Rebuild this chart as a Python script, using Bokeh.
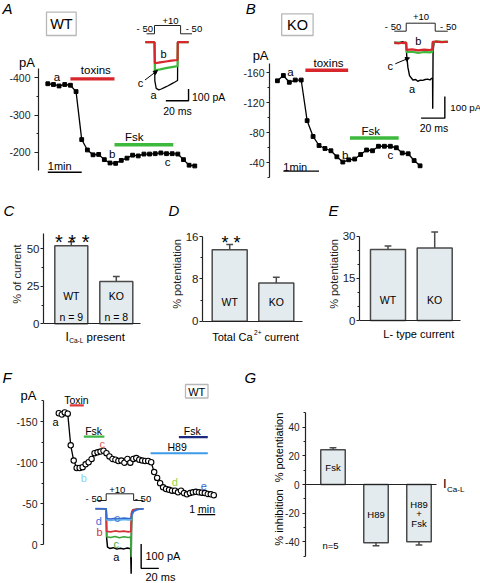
import math
from bokeh.plotting import figure
from bokeh.models import Range1d, FixedTicker, Arrow, NormalHead, CustomJSTickFormatter
from bokeh.layouts import row, column
from bokeh.embed import file_html
from bokeh.resources import INLINE
from bokeh.core.properties import value

FONT = "Liberation Sans"
S = 1.0  # reference pixels -> page pixels

# ====================== DATA ======================
# Panel A (WT): peak current, one point every 10 s
A_step_s = 10
A_current_pA = [-384, -382, -378, -382, -380, -363, -234, -206, -193, -194, -180, -171, -170,
                -178, -184, -192, -190, -195, -195, -196, -198, -196, -196, -195, -180, -165, -163]
A_toxins_s = [40, 118]
A_toxins_level = -397
A_fsk_s = [118, 222]
A_fsk_level = -220
A_scale_s = [0, 60]
A_scale_level = -146
# Panel A inset currents (ms, pA) and voltage protocol (ms, mV)
A_ins_t_a = [-8, 0, 0.3, 1.5, 3.8, 6, 9, 12, 15, 18, 20.3, 20.5, 30]
A_ins_i_a = [0, 0, -330, -395, -407, -400, -386, -372, -356, -340, -327, 0, 0]
A_ins_t_bc = [-8, 0, 0.3, 5, 10, 15, 20.3, 20.5, 30]
A_ins_i_b = [0, 0, -180, -172, -165, -158, -152, 0, 0]
A_ins_i_c = [0, 0, -240, -232, -222, -213, -205, 0, 0]
A_prot_t = [-7, 0, 0, 23, 23, 33]
A_prot_mV = [-50, -50, 10, 10, -50, -50]
A_ins_scale_t = [10, 30, 30]
A_ins_scale_i = [-500, -500, -400]

# Panel B (KO)
B_step_s = 10
B_current_pA = [-149, -156, -147, -150, -150, -96, -75, -63, -59, -56, -48, -41, -44, -45,
                -51, -57, -56, -62, -62, -62, -60, -53, -52, -43, -36]
B_toxins_s = [47, 119]
B_toxins_level = -163
B_fsk_s = [122, 204]
B_fsk_level = -73
B_scale_s = [10, 70]
B_scale_level = -29
B_ins_t_a = [-10, -6, -3, -1, 0, 0.4, 1.4, 2.8, 5.6, 8, 9.7, 12, 13.9, 16, 18, 20, 21.4, 22.2, 22.3, 22.6, 23.5, 27, 35]
B_ins_i_a = [0, -2, 3, -3, 0, -60, -115, -154, -174, -172, -180, -175, -176, -172, -170, -174, -166, -170, -307, -40, 0, 2, 0]
B_ins_t_bc = [-10, -6, -2, 0, 0.3, 5, 10, 15, 20, 22, 22.3, 25, 30, 35]
B_ins_i_b = [-3, -5, -2, -3, -35, -33, -38, -34, -36, -33, 2, 3, 0, 2]
B_ins_i_c = [-4, -2, -5, -2, -46, -44, -49, -45, -47, -44, -5, 4, 2, 3]
B_prot_t = [-10, 0, 0, 24.4, 24.4, 35]
B_prot_mV = [-50, -50, 10, 10, -50, -50]
B_ins_scale_t = [12.5, 32.5, 32.5]
B_ins_scale_i = [-350, -350, -250]

# Panel C: % of cells with I_Ca-L present
C_groups = ["WT", "KO"]
C_mean = [52.0, 28.2]
C_sem = [2.7, 3.3]
C_n = ["n = 9", "n = 8"]
# Panel D: % potentiation, total Ca current
D_groups = ["WT", "KO"]
D_mean = [13.5, 7.2]
D_sem = [1.0, 1.1]
# Panel E: % potentiation, L-type current
E_groups = ["WT", "KO"]
E_mean = [25.3, 25.8]
E_sem = [1.2, 5.7]

# Panel F (WT): time course, one point every 10 s
F_step_s = 10
F_current_pA = [-160, -158.5, -161, -159.5, -121, -102.5, -93.5, -93.5, -94.5, -98, -100.5, -104.5,
                -111.5, -112.5, -113.5, -114.5, -111.5, -107.5, -104.5, -103.5, -102, -102.5, -100,
                -104.5, -100, -104.5, -105.5, -103.5, -102.5, -102, -102, -100.5, -88.5, -81.5, -75,
                -70, -68, -67, -66, -66, -64, -66, -63, -61.5, -63, -64, -64.5, -64, -63.5, -63, -62,
                -61.5, -60.5]
F_toxin_s = [37, 84]
F_toxin_level = -169.5
F_fsk1_s = [84, 153]
F_fsk1_level = -131.7
F_h89_s = [308, 500]
F_h89_level = -111.4
F_fsk2_s = [403, 500]
F_fsk2_level = -130.9
F_scale_s = [465, 525]
F_scale_level = -36.8
F_ins_t_a = [-12, 0, 0.5, 1.5, 4, 8, 12, 16, 20, 24, 27.6, 28.2, 28.5, 29, 31, 35, 42]
F_ins_i_a = [0, 0, -120, -158, -163, -160, -166, -162, -165, -161, -164, -267, -100, -14, -5, -2, 0]
F_ins_t_c = [-12, 0, 0.5, 5, 10, 15, 20, 25, 27.6, 28.2, 28.5, 29, 31, 42]
F_ins_i_c = [0, 0, -115, -118, -114, -119, -115, -118, -116, -199, -60, -10, -3, 0]
F_ins_t_b = [-12, 0, 0.5, 5, 10, 15, 20, 25, 27.8, 28.3, 30, 42]
F_ins_i_b = [0, 0, -93, -95, -91, -94, -92, -95, -93, -20, -4, 0]
F_ins_t_de = [-12, 0, 0.6, 5, 10, 15, 20, 25, 28, 29, 31, 35, 42]
F_ins_i_d = [0, 0, -46, -48, -45, -47, -44, -46, -45, -28, -12, -4, 0]
F_ins_i_e = [1, 0, -40, -42, -39, -41, -38, -40, -39, -24, -9, -3, 0]
F_prot_t = [-10, 0, 0, 31, 31, 42]
F_prot_mV = [-50, -50, 10, 10, -50, -50]
F_ins_scale_t = [39.5, 39.5, 59.5]
F_ins_scale_i = [-145, -245, -245]

# Panel G: % potentiation / inhibition of I_Ca-L (n = 5)
G_groups = ["Fsk", "H89", "H89+Fsk"]
G_mean = [24.2, -40.7, -40.0]
G_sem = [1.4, 2.1, 2.3]

# ====================== STYLE ======================
RED = "#d8262d"
GREEN = "#3dba3d"
BAR_FILL = "#e4ebee"
BAR_LINE = "#4a4a4a"
AXIS = "#222222"

AW = {' ': 278, '%': 889, 'a': 556, 'C': 722, 'I': 278, 'L': 556, 'T': 611, '-': 333, '+': 584,
      '2': 556, 'o': 556, 't': 278, 'l': 222, 'c': 500, 'u': 556, 'r': 333, 'e': 556, 'n': 556,
      'p': 556, 's': 500}


def tw(s, size):
    return sum(AW.get(ch, 556) for ch in s) / 1000.0 * size


def lin(a):
    (p1, v1), (p2, v2) = a
    k = (v2 - v1) / (p2 - p1)
    return lambda q: v1 + (q - p1) * k


class Panel:
    def __init__(self, region, frame, xa, ya, xaxis=False):
        rx0, ry0, rx1, ry1 = region
        fx0, fy0, fx1, fy1 = frame
        W = round(S * (rx1 - rx0))
        H = round(S * (ry1 - ry0))
        bl = round(S * (fx0 - rx0))
        br = round(S * (rx1 - fx1))
        bt = round(S * (fy0 - ry0))
        bb = round(S * (ry1 - fy1))
        self.f = (rx0 + bl / S, ry0 + bt / S, rx0 + (W - br) / S, ry0 + (H - bb) / S)
        self.X = lin(xa)
        self.Y = lin(ya)
        self.p = figure(width=W, height=H, x_range=self.xr(xa), y_range=self.yr(ya),
                        toolbar_location=None, output_backend="svg",
                        x_axis_location="below" if xaxis else None, y_axis_location="left",
                        min_border_left=bl, min_border_right=br, min_border_top=bt,
                        min_border_bottom=bb, outline_line_color=None,
                        background_fill_color="white", border_fill_color="white")
        self.p.grid.visible = False

    def xr(self, a):
        f = lin(a)
        return Range1d(start=f(self.f[0]), end=f(self.f[2]))

    def yr(self, a):
        f = lin(a)
        return Range1d(start=f(self.f[3]), end=f(self.f[1]))

    def inset(self, name, xa, ya):
        self.p.extra_x_ranges[name] = self.xr(xa)
        self.p.extra_y_ranges[name] = self.yr(ya)


def txt(p, x, y, s, size, color="black", align="center", baseline="middle", style="normal",
        angle=0.0, **kw):
    p.text(x=[x], y=[y], text=[s], text_font=value(FONT), text_font_size=f"{size * S:.2f}px",
           text_color=color, text_align=align, text_baseline=baseline, text_font_style=style,
           angle=angle, level="overlay", **kw)


def ptxt(P, x, y, s, size, **kw):
    txt(P.p, P.X(x), P.Y(y), s, size, **kw)


def pbox(P, x0, y0, x1, y1):
    P.p.quad(left=[P.X(x0)], right=[P.X(x1)], top=[P.Y(y0)], bottom=[P.Y(y1)],
             fill_color=None, line_color="#b8b8b8", line_width=1.3, level="overlay")


def parrow(P, x0, y0, x1, y1):
    P.p.add_layout(Arrow(end=NormalHead(size=4, fill_color="black", line_color="black", line_width=1),
                         x_start=P.X(x0), y_start=P.Y(y0), x_end=P.X(x1), y_end=P.Y(y1),
                         line_width=1, line_color="black"))


def yax(P, ticks, minor, bounds, size, tick_out=3, standoff=2, label=None, label_size=11,
        label_standoff=2):
    ax = P.p.yaxis[0]
    ax.ticker = FixedTicker(ticks=ticks, minor_ticks=minor)
    ax.formatter = CustomJSTickFormatter(code="return String(tick);")
    ax.bounds = bounds
    ax.axis_line_color = AXIS
    ax.axis_line_width = 1.2
    ax.major_tick_line_color = AXIS
    ax.major_tick_line_width = 1.2
    ax.minor_tick_line_color = AXIS
    ax.minor_tick_line_width = 1
    ax.major_tick_in = 0
    ax.major_tick_out = tick_out
    ax.minor_tick_in = 0
    ax.minor_tick_out = 2
    ax.major_label_standoff = standoff
    ax.major_label_text_font = FONT
    ax.major_label_text_font_size = f"{size * S:.2f}px"
    ax.major_label_text_color = AXIS
    if label:
        ax.axis_label = label
        ax.axis_label_text_font = FONT
        ax.axis_label_text_font_size = f"{label_size * S:.2f}px"
        ax.axis_label_text_font_style = "normal"
        ax.axis_label_text_color = AXIS
        ax.axis_label_standoff = label_standoff


def xax(P, right_px):
    ax = P.p.xaxis[0]
    ax.fixed_location = 0
    ax.ticker = FixedTicker(ticks=[])
    ax.major_tick_out = 0
    ax.major_tick_in = 0
    ax.minor_tick_out = 0
    ax.minor_tick_in = 0
    ax.major_label_text_font_size = "0px"
    ax.major_label_standoff = 0
    ax.axis_line_color = AXIS
    ax.axis_line_width = 1.2
    ax.bounds = (P.X(P.f[0]), P.X(right_px))


def bars(P, xs, means, errs, width, cap_px):
    p = P.p
    p.vbar(x=xs, top=means, bottom=0, width=width, fill_color=BAR_FILL, line_color=BAR_LINE,
           line_width=1.5)
    ends = [m + (e if m >= 0 else -e) for m, e in zip(means, errs)]
    p.segment(x0=xs, y0=means, x1=xs, y1=ends, line_color=BAR_LINE, line_width=1.5)
    cw = cap_px * abs(P.X(1) - P.X(0))
    p.segment(x0=[x - cw for x in xs], y0=ends, x1=[x + cw for x in xs], y1=ends,
              line_color=BAR_LINE, line_width=1.5)


def timecourse(P, step, vals, marker="square"):
    t = [i * step for i in range(len(vals))]
    P.p.line(t, vals, line_color="black", line_width=1.3)
    if marker == "square":
        P.p.scatter(t, vals, marker="square", size=3.8, fill_color="black", line_color="black")
    else:
        P.p.scatter(t, vals, marker="circle", size=5.4, fill_color="white", line_color="black",
                    line_width=1.1)


def appbar(P, span, level, color, width=3.4):
    P.p.segment(x0=[span[0]], y0=[level], x1=[span[1]], y1=[level], line_color=color,
                line_width=width)


# ====================== PANEL A ======================
PA = Panel((0, 0, 240, 195), (38, 0, 240, 195), ((47.3, 0), (103.83, 100)),
           ((77.3, -400), (151.7, -200)))
p = PA.p
yax(PA, [-400, -300, -200], [-350, -250], (-425, -150), 10.5, tick_out=4, standoff=4)
appbar(PA, A_toxins_s, A_toxins_level, RED)
appbar(PA, A_fsk_s, A_fsk_level, GREEN)
timecourse(PA, A_step_s, A_current_pA)
p.line(A_scale_s, [A_scale_level] * 2, line_color="black", line_width=1.4)
txt(p, 16, -402, "a", 11.5)
txt(p, 85, -420, "toxins", 11.5)
txt(p, 153, -242, "Fsk", 11.5)
txt(p, 114, -194, "b", 11.5)
txt(p, 212, -175, "c", 11.5)
txt(p, 0, -162, "1min", 11, align="left")
ptxt(PA, 2, 8, "A", 15, align="left", style="italic")
pbox(PA, 46, 11.7, 75.7, 35)
ptxt(PA, 60.9, 23.6, "WT", 14.5)
ptxt(PA, 26.5, 61.7, "pA", 13)
PA.inset("ia", ((154, 0), (176.7, 20)), ((41.7, 0), (53.4, -100)))
PA.inset("pa", ((154, 0), (176.7, 20)), ((33.3, -50), (25, 10)))
p.line(A_prot_t, A_prot_mV, line_color=AXIS, line_width=1, x_range_name="pa", y_range_name="pa")
p.line(A_ins_t_a, A_ins_i_a, line_color="black", line_width=1.3, x_range_name="ia", y_range_name="ia")
p.line(A_ins_t_bc, A_ins_i_c, line_color=GREEN, line_width=2.2, x_range_name="ia", y_range_name="ia")
p.line(A_ins_t_bc, A_ins_i_b, line_color=RED, line_width=2.2, x_range_name="ia", y_range_name="ia")
p.line(A_ins_scale_t, A_ins_scale_i, line_color="black", line_width=1.4, x_range_name="ia",
       y_range_name="ia")
ptxt(PA, 144.3, 28, "- 50", 9.5)
ptxt(PA, 170, 20, "+10", 9.5)
ptxt(PA, 193.5, 28, "- 50", 9.5)
ptxt(PA, 163, 53, "b", 11)
ptxt(PA, 140, 82, "c", 11)
ptxt(PA, 153, 94, "a", 11)
parrow(PA, 144.5, 79.5, 157, 70)
ptxt(PA, 191.5, 96.7, "100 pA", 10.5, align="left")
ptxt(PA, 177, 110, "20 ms", 10.5)

# ====================== PANEL B ======================
PB = Panel((240, 0, 480, 195), (266.7, 0, 480, 195), ((275, 0), (335, 100)),
           ((72, -160), (162.3, -40)))
p = PB.p
yax(PB, [-160, -120, -80, -40], [-140, -100, -60, -20], (-172, -20), 10.5, tick_out=3, standoff=2)
appbar(PB, B_toxins_s, B_toxins_level, RED)
appbar(PB, B_fsk_s, B_fsk_level, GREEN)
timecourse(PB, B_step_s, B_current_pA)
p.line(B_scale_s, [B_scale_level] * 2, line_color="black", line_width=1.4)
txt(p, 22, -161, "a", 11.5)
txt(p, 86, -173, "toxins", 11.5)
txt(p, 157, -82, "Fsk", 11.5)
txt(p, 114, -51, "b", 11.5)
txt(p, 190, -51, "c", 11.5)
txt(p, 10, -35, "1min", 11, align="left")
ptxt(PB, 243, 8, "B", 15, align="left", style="italic")
pbox(PB, 279.3, 13.3, 311, 35)
ptxt(PB, 295.2, 24.3, "KO", 14.5)
ptxt(PB, 258, 55, "pA", 13)
PB.inset("ib", ((405, 0), (429, 20)), ((41.7, 0), (63.4, -100)))
PB.inset("pb", ((405, 0), (429, 20)), ((30.7, -50), (22.7, 10)))
p.line(B_prot_t, B_prot_mV, line_color=AXIS, line_width=1, x_range_name="pb", y_range_name="pb")
p.line(B_ins_t_a, B_ins_i_a, line_color="black", line_width=1.4, x_range_name="ib", y_range_name="ib")
p.line(B_ins_t_bc, B_ins_i_c, line_color=GREEN, line_width=2.2, x_range_name="ib", y_range_name="ib")
p.line(B_ins_t_bc, B_ins_i_b, line_color=RED, line_width=2.2, x_range_name="ib", y_range_name="ib")
p.line(B_ins_scale_t, B_ins_scale_i, line_color="black", line_width=1.4, x_range_name="ib",
       y_range_name="ib")
ptxt(PB, 391.7, 26, "- 50", 9.5)
ptxt(PB, 420, 16, "+10", 9.5)
ptxt(PB, 447.5, 26, "- 50", 9.5)
ptxt(PB, 417.3, 40, "b", 11)
ptxt(PB, 389, 65, "c", 11)
ptxt(PB, 411, 88.3, "a", 11)
parrow(PB, 394, 63.3, 408.3, 57.3)
ptxt(PB, 449.5, 107.3, "100 pA", 9.8, align="left")
ptxt(PB, 433, 127.3, "20 ms", 10.5)

# ====================== PANEL C ======================
PC = Panel((0, 195, 160, 352), (43.3, 195, 160, 352), ((70.8, 1), (115.8, 2)),
           ((323.3, 0), (248.3, 50)), xaxis=True)
p = PC.p
yax(PC, [0, 25, 50], [12.5, 37.5], (0, 60), 11.5, tick_out=3, standoff=1,
    label="% of current", label_size=11, label_standoff=1)
xax(PC, 140)
C_x = [1, 2]
bars(PC, C_x, C_mean, C_sem, 0.733, 3.4)
p.text(x=C_x, y=[PC.Y(295.7)] * 2, text=C_groups, text_font=value(FONT),
       text_font_size=f"{10.5 * S:.2f}px", text_align="center", text_baseline="middle", level="overlay")
p.text(x=C_x, y=[PC.Y(316.7)] * 2, text=C_n, text_font=value(FONT),
       text_font_size=f"{10.5 * S:.2f}px", text_align="center", text_baseline="middle", level="overlay")
ptxt(PC, 71.7, 241, "* * *", 20, baseline="alphabetic")
ptxt(PC, 3, 210, "C", 15, align="left", style="italic")
x0 = 65
ptxt(PC, x0, 336, "I", 12, align="left")
x1 = x0 + tw("I", 12) + 0.4
ptxt(PC, x1, 339.5, "Ca-L", 6.5, align="left")
x2 = x1 + tw("Ca-L", 6.5) + tw(" ", 11.5)
ptxt(PC, x2, 336, "present", 11.5, align="left")

# ====================== PANEL D ======================
PD = Panel((160, 195, 320, 352), (201.7, 195, 320, 352), ((229.2, 1), (275.8, 2)),
           ((320.7, 0), (236, 16)), xaxis=True)
p = PD.p
yax(PD, [0, 8, 16], [4, 12], (0, 16), 11.5, tick_out=3, standoff=1,
    label="% potentiation", label_size=11, label_standoff=0)
xax(PD, 301.7)
D_x = [1, 2]
bars(PD, D_x, D_mean, D_sem, 0.751, 3.4)
p.text(x=D_x, y=[PD.Y(301)] * 2, text=D_groups, text_font=value(FONT),
       text_font_size=f"{10.5 * S:.2f}px", text_align="center", text_baseline="middle", level="overlay")
ptxt(PD, 230.5, 242.5, "* *", 18, baseline="alphabetic")
ptxt(PD, 168, 210, "D", 15, align="left", style="italic")
x0 = 211.7
ptxt(PD, x0, 336, "Total Ca", 11, align="left")
x1 = x0 + tw("Total Ca", 11) + 0.3
ptxt(PD, x1, 332, "2+", 6.5, align="left")
x2 = x1 + tw("2+", 6.5) + tw(" ", 11)
ptxt(PD, x2, 336, "current", 11, align="left")

# ====================== PANEL E ======================
PE = Panel((320, 195, 480, 352), (359.3, 195, 480, 352), ((387.5, 1), (434.2, 2)),
           ((320, 0), (235.7, 30)), xaxis=True)
p = PE.p
yax(PE, [0, 15, 30], [5, 10, 20, 25], (0, 30), 11.5, tick_out=3, standoff=1,
    label="% potentiation", label_size=11, label_standoff=0)
xax(PE, 460)
E_x = [1, 2]
bars(PE, E_x, E_mean, E_sem, 0.75, 3.4)
p.text(x=E_x, y=[PE.Y(299)] * 2, text=E_groups, text_font=value(FONT),
       text_font_size=f"{10.5 * S:.2f}px", text_align="center", text_baseline="middle", level="overlay")
ptxt(PE, 328, 210, "E", 15, align="left", style="italic")
ptxt(PE, 418.3, 333.3, "L- type current", 11)

# ====================== PANEL F ======================
PF = Panel((0, 352, 243, 583), (43.3, 352, 243, 583), ((58.3, 0), (88.1, 100)),
           ((421, -150), (503.3, -50)))
p = PF.p
yax(PF, [-150, -100, -50, 0], [-175, -125, -75, -25], (-175, 0), 10.5, tick_out=3, standoff=3)
appbar(PF, F_toxin_s, F_toxin_level, "#e0393e", 2.2)
appbar(PF, F_fsk1_s, F_fsk1_level, "#41b649", 2.2)
appbar(PF, F_h89_s, F_h89_level, "#3d9be9", 2.2)
appbar(PF, F_fsk2_s, F_fsk2_level, "#1b2a80", 2.2)
timecourse(PF, F_step_s, F_current_pA, marker="circle")
p.line(F_scale_s, [F_scale_level] * 2, line_color="black", line_width=1.4)
txt(p, 481, -43.7, "1 min", 10.5)
txt(p, 59, -176.4, "Toxin", 10.5)
txt(p, -11, -150, "a", 11)
txt(p, 117, -138.2, "Fsk", 10.5)
txt(p, 146, -123, "c", 11, color="#e05a5a")
txt(p, 84, -81.5, "b", 11, color="#8ad3ee")
txt(p, 397, -119.6, "H89", 10.5)
txt(p, 448, -138.2, "Fsk", 10.5)
txt(p, 389, -76.2, "d", 11, color="#8fd84a")
txt(p, 487, -72, "e", 11, color="#3a5fcf")
ptxt(PF, 2, 376.7, "F", 15, align="left", style="italic")
pbox(PF, 185, 384, 207.5, 397.5)
ptxt(PF, 196.2, 391, "WT", 11)
ptxt(PF, 28, 395, "pA", 13)
PF.inset("if", ((105.7, 0), (123.4, 20)), ((508.3, 0), (532.6, -100)))
PF.inset("pf", ((105.7, 0), (123.4, 20)), ((500, -50), (493.3, 10)))
p.line(F_prot_t, F_prot_mV, line_color=AXIS, line_width=1, x_range_name="pf", y_range_name="pf")
p.line(F_ins_t_a, F_ins_i_a, line_color="black", line_width=1.5, x_range_name="if", y_range_name="if")
p.line(F_ins_t_c, F_ins_i_c, line_color="#3aa63a", line_width=1.6, x_range_name="if", y_range_name="if")
p.line(F_ins_t_b, F_ins_i_b, line_color="#d3343a", line_width=1.6, x_range_name="if", y_range_name="if")
p.line(F_ins_t_de, F_ins_i_d, line_color="#59b2ea", line_width=1.6, x_range_name="if", y_range_name="if")
p.line(F_ins_t_de, F_ins_i_e, line_color="#3568d4", line_width=1.6, x_range_name="if", y_range_name="if")
p.line(F_ins_scale_t, F_ins_scale_i, line_color="black", line_width=1.4, x_range_name="if",
       y_range_name="if")
ptxt(PF, 93.3, 498.3, "- 50", 9.5)
ptxt(PF, 116.7, 489, "+10", 9.5)
ptxt(PF, 142.5, 498.3, "- 50", 9.5)
ptxt(PF, 98.3, 520, "d", 11, color="#3a6fd6")
ptxt(PF, 116.7, 517.3, "e", 11, color="#3a6fd6")
ptxt(PF, 99, 531, "b", 11, color="#d3343a")
ptxt(PF, 115.7, 543.3, "c", 11, color="#3aa63a")
ptxt(PF, 115.7, 556, "a", 11)
ptxt(PF, 145, 555, "100 pA", 11, align="left")
ptxt(PF, 145, 576.7, "20 ms", 11, align="left")

# ====================== PANEL G ======================
PG = Panel((243, 352, 480, 583), (305, 352, 480, 583), ((332.5, 1), (375.5, 2)),
           ((484, 0), (426.7, 40)), xaxis=True)
p = PG.p
yax(PG, [-40, -20, 0, 20, 40], [-50, -30, -10, 10, 30, 50], (-50, 50), 10, tick_out=3, standoff=3)
xax(PG, 436)
G_x = [1, 2, 3]
bars(PG, G_x, G_mean, G_sem, 0.57, 3.4)
txt(p, 1, PG.Y(467.3), "Fsk", 9.5)
txt(p, 2, PG.Y(514), "H89", 9.5)
txt(p, 3, PG.Y(504), "H89", 9.5)
txt(p, 3, PG.Y(513.5), "+", 9.5)
txt(p, 3, PG.Y(523.3), "Fsk", 9.5)
ptxt(PG, 330, 545, "n=5", 9.5)
ptxt(PG, 244, 376.7, "G", 15, align="left", style="italic")
ptxt(PG, 278.3, 447, "% potentiation", 11, angle=math.pi / 2)
ptxt(PG, 278.3, 517, "% inhibition", 11, angle=math.pi / 2)
gx0 = 442.5
ptxt(PG, gx0, 483, "I", 13, align="left")
ptxt(PG, gx0 + tw("I", 13) + 0.4, 488.5, "Ca-L", 8, align="left")

layout = column(row(PA.p, PB.p), row(PC.p, PD.p, PE.p), row(PF.p, PG.p))
open("out.html", "w").write(file_html(layout, INLINE, title="Figure"))
